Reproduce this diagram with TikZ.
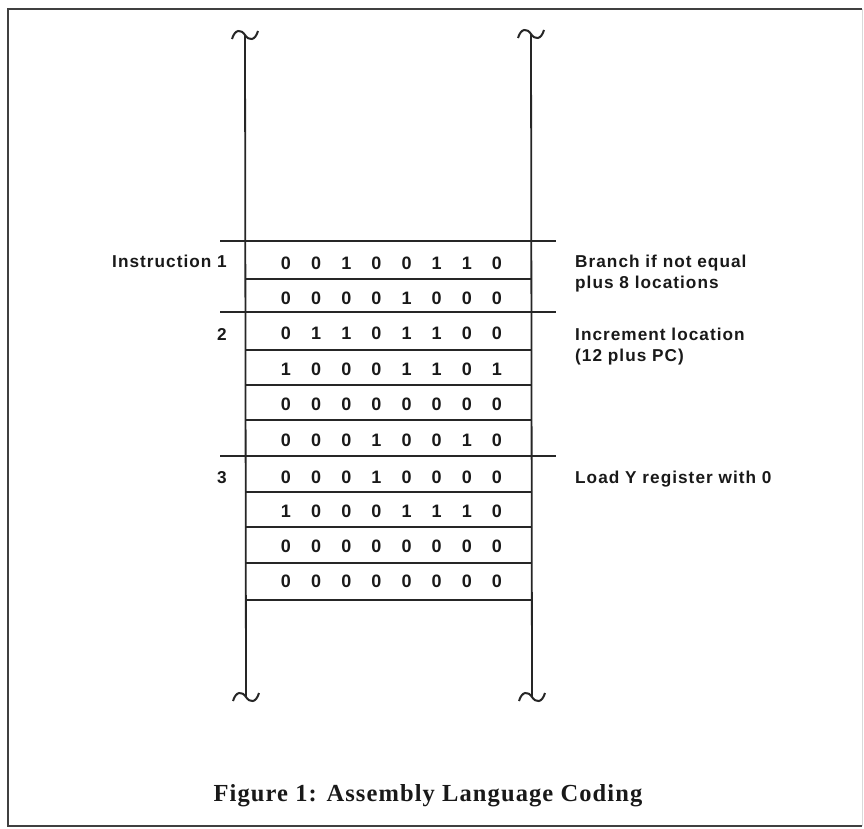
\documentclass[tikz,border=0pt]{standalone}
\usepackage{fontspec}
\newfontfamily\labelfont[LetterSpace=6]{Liberation Sans}
\newfontfamily\captionfont[LetterSpace=4.5]{Liberation Serif}
\tikzset{
  rule/.style={line width=1.8pt, black!85},
  frame/.style={line width=2pt, black!75},
  bit/.style={font=\labelfont\bfseries\fontsize{18}{21}\selectfont, inner sep=0pt, text=black!90},
  sidelabel/.style={font=\labelfont\bfseries\fontsize{17.2}{20}\selectfont, inner sep=0pt, text=black!90},
  captiontext/.style={font=\captionfont\bfseries\fontsize{24.5}{28}\selectfont, inner sep=0pt, text=black!90},
  breakmark/.pic={\draw[rule, line width=2pt] (-13,4) .. controls (-10,-6) and (-4,-6) .. (0,0) .. controls (4,6) and (10,6) .. (13,-4);}
}
\begin{document}
\begin{tikzpicture}[x=1pt,y=-1pt]
  \useasboundingbox[fill=white] (0,0) rectangle (864,829);
  % outer frame
  \draw[frame] (862,9) -- (8,9) -- (8,826) -- (862,826);
  \draw[line width=1pt, black!15] (862,9) -- (862,826);

  % memory column walls with break marks
  \coordinate (LT) at (245,35);
  \coordinate (LB) at (246,697);
  \coordinate (RT) at (531,34);
  \coordinate (RB) at (532,697);
  \draw[rule] (LT) -- (LB);
  \draw[rule] (RT) -- (RB);
  \pic at (LT) {breakmark};
  \pic at (RT) {breakmark};
  \pic at (LB) {breakmark};
  \pic at (RB) {breakmark};

  % instruction boundaries
  \foreach \y in {241,312,456} \draw[rule] (220,\y) -- (556,\y);
  % byte boundaries
  \foreach \y in {279,350,385,420,492,527,563,600} \draw[rule] (245,\y) -- (531,\y);

  % memory contents
  \foreach \yc/\bits [count=\r] in {
      263/{0,0,1,0,0,1,1,0},
      298/{0,0,0,0,1,0,0,0},
      333/{0,1,1,0,1,1,0,0},
      369/{1,0,0,0,1,1,0,1},
      404/{0,0,0,0,0,0,0,0},
      440/{0,0,0,1,0,0,1,0},
      477/{0,0,0,1,0,0,0,0},
      511/{1,0,0,0,1,1,1,0},
      546/{0,0,0,0,0,0,0,0},
      581/{0,0,0,0,0,0,0,0}} {
    \foreach \b [count=\c] in \bits {
      \node[bit] (b-\r-\c) at ({286+30.14*(\c-1)},\yc) {\b};
    }
  }

  % instruction numbers
  \node[sidelabel, anchor=base east] (i1) at (227,267) {Instruction 1};
  \node[sidelabel, anchor=base east] (i2) at (227,340) {2};
  \node[sidelabel, anchor=base east] (i3) at (227,483) {3};

  % comments
  \node[sidelabel, anchor=base west] (c1a) at (575,267) {Branch if not equal};
  \node[sidelabel, anchor=base west] (c1b) at (575,288) {plus 8 locations};
  \node[sidelabel, anchor=base west] (c2a) at (575,340) {Increment location};
  \node[sidelabel, anchor=base west] (c2b) at (575,361) {(12 plus PC)};
  \node[sidelabel, anchor=base west] (c3) at (575,483) {Load Y register with 0};

  % caption
  \node[captiontext, anchor=base] (cap) at (428,801) {Figure 1: Assembly Language Coding};
\end{tikzpicture}
\end{document}
